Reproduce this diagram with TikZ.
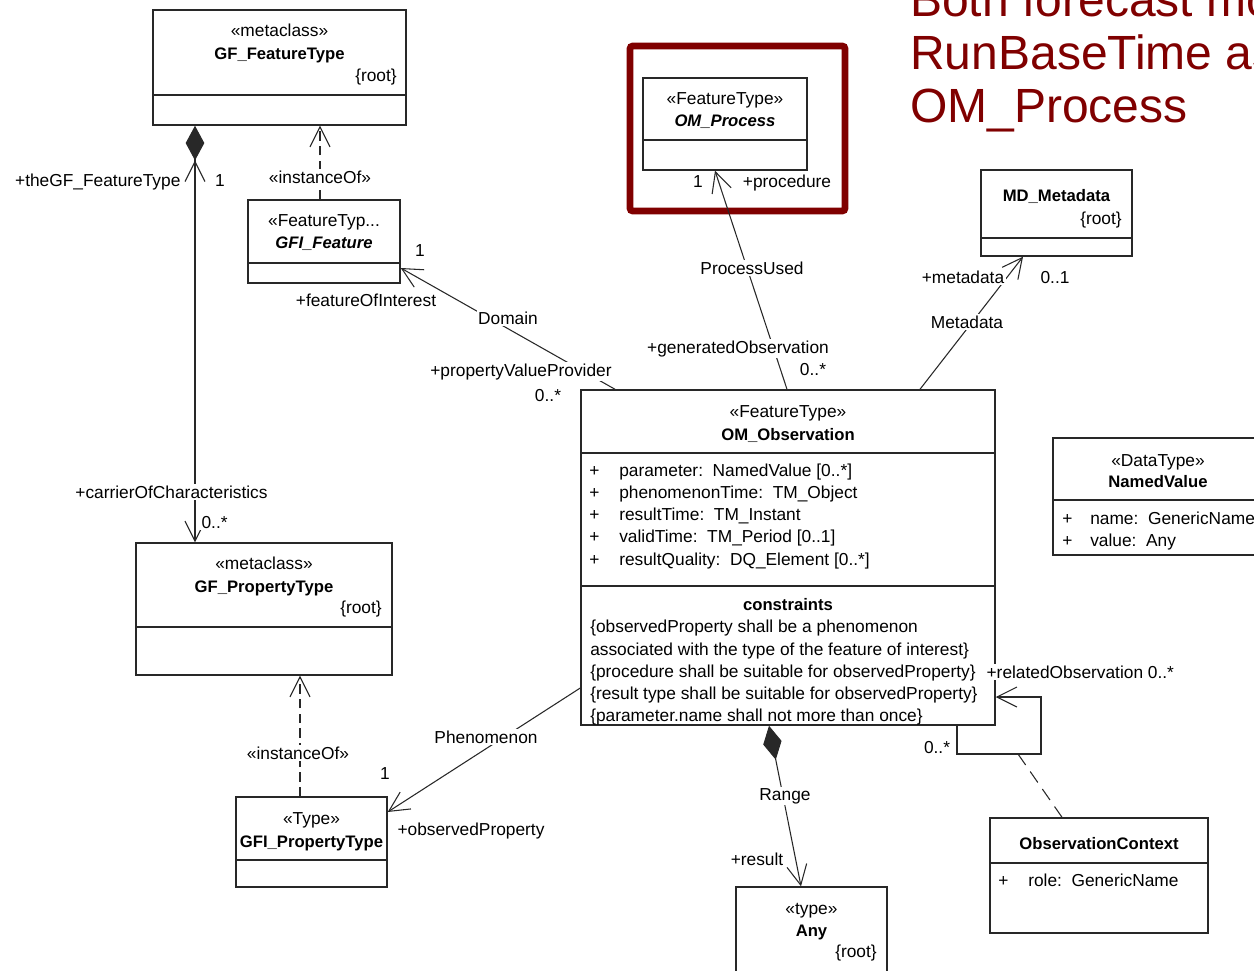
\documentclass[tikz,border=0pt]{standalone}
\usepackage{fontspec}
\setmainfont{Liberation Sans}
\usetikzlibrary{arrows.meta,fit}
\definecolor{framered}{RGB}{128,0,0}
\definecolor{umlline}{RGB}{40,40,40}
\newcommand\umlsize{\fontsize{13}{16}\selectfont}
\newcommand\umlbold{\fontsize{12.5}{15}\selectfont\bfseries}

\begin{document}
\begin{tikzpicture}[x=0.75pt, y=-0.75pt,
    font=\umlsize,
    cls/.style={draw=umlline, line width=1.1pt, inner sep=0pt},
    divider/.style={draw=umlline, line width=1.1pt},
    txt/.style={inner sep=0pt, anchor=mid, yshift=-2pt},
    bold/.style={txt, font=\umlbold},
    bolditalic/.style={txt, font=\umlbold\itshape},
    lbl/.style={fill=white, inner sep=1pt, anchor=mid, yshift=-2pt},
    titleline/.style={anchor=base west, inner sep=0pt, text=framered, font=\fontsize{36}{41}\selectfont},
    assoc/.style={draw=umlline, line width=0.8pt},
    nav/.style={assoc, -{Straight Barb[length=15pt, width=15pt]}},
    dep/.style={assoc, dash pattern=on 7pt off 4pt, -{Straight Barb[length=15pt, width=15pt]}},
    comp/.style={assoc, {Diamond[length=26pt, width=14pt]}-{Straight Barb[length=15pt, width=15pt]}}]
      \useasboundingbox (0,0) rectangle (1254,971);
      \clip (0,0) rectangle (1254,971);

      % title
      \node[titleline] (title1) at (910,16) {Both forecast mo};
      \node[titleline] (title2) at (910,69) {RunBaseTime as};
      \node[titleline] (title3) at (910,122) {OM\_Process};

      % highlight frame
      \draw[framered, line width=5pt, rounded corners=2pt] (630,46) rectangle (845,211);

      % classes
      \node[cls, fit={(153,10) (406,125)}] (ft) {};
      \draw[divider] (ft.west |- 0,95) -- (ft.east |- 0,95);
      \node[txt] at (279.5,30) {«metaclass»};
      \node[bold] at (279.5,53) {GF\_FeatureType};
      \node[txt, anchor=mid east] at (397,75) {\{root\}};

      \node[cls, fit={(248,200) (400,283)}] (gfi) {};
      \draw[divider] (gfi.west |- 0,263) -- (gfi.east |- 0,263);
      \node[txt] at (324,220) {«FeatureTyp...};
      \node[bolditalic] at (324,242) {GFI\_Feature};

      \node[cls, fit={(643,78) (807,170)}] (proc) {};
      \draw[divider] (proc.west |- 0,140) -- (proc.east |- 0,140);
      \node[txt] at (725,98) {«FeatureType»};
      \node[bolditalic] at (725,120) {OM\_Process};

      \node[cls, fit={(981,170) (1132,256)}] (md) {};
      \draw[divider] (md.west |- 0,238) -- (md.east |- 0,238);
      \node[bold] at (1056.5,195) {MD\_Metadata};
      \node[txt, anchor=mid east] at (1122,218) {\{root\}};

      \node[cls, fit={(581,390) (995,725)}] (obs) {};
      \draw[divider] (obs.west |- 0,453) -- (obs.east |- 0,453);
      \draw[divider] (obs.west |- 0,586) -- (obs.east |- 0,586);
      \node[txt] at (788,411) {«FeatureType»};
      \node[bold] at (788,434) {OM\_Observation};
      \node[txt, anchor=mid west] at (589,470) {+};
      \node[txt, anchor=mid west] at (619,470) {parameter:\ \ NamedValue [0..*]};
      \node[txt, anchor=mid west] at (589,492) {+};
      \node[txt, anchor=mid west] at (619,492) {phenomenonTime:\ \ TM\_Object};
      \node[txt, anchor=mid west] at (589,514) {+};
      \node[txt, anchor=mid west] at (619,514) {resultTime:\ \ TM\_Instant};
      \node[txt, anchor=mid west] at (589,536) {+};
      \node[txt, anchor=mid west] at (619,536) {validTime:\ \ TM\_Period [0..1]};
      \node[txt, anchor=mid west] at (589,559) {+};
      \node[txt, anchor=mid west] at (619,559) {resultQuality:\ \ DQ\_Element [0..*]};
      \node[bold] at (788,604) {constraints};
      \node[txt, anchor=mid west] at (590,626) {\{observedProperty shall be a phenomenon};
      \node[txt, anchor=mid west] at (590,649) {associated with the type of the feature of interest\}};
      \node[txt, anchor=mid west] at (590,671) {\{procedure shall be suitable for observedProperty\}};
      \node[txt, anchor=mid west] at (590,693) {\{result type shall be suitable for observedProperty\}};
      \node[txt, anchor=mid west] at (590,715) {\{parameter.name shall not more than once\}};

      \node[cls, fit={(1053,438) (1263,555)}] (nv) {};
      \draw[divider] (nv.west |- 0,500) -- (nv.east |- 0,500);
      \node[txt] at (1158,460) {«DataType»};
      \node[bold] at (1158,481) {NamedValue};
      \node[txt, anchor=mid west] at (1062,518) {+};
      \node[txt, anchor=mid west] at (1090,518) {name:\ \ GenericName};
      \node[txt, anchor=mid west] at (1062,540) {+};
      \node[txt, anchor=mid west] at (1090,540) {value:\ \ Any};

      \node[cls, fit={(136,543) (392,675)}] (pt) {};
      \draw[divider] (pt.west |- 0,627) -- (pt.east |- 0,627);
      \node[txt] at (264,563) {«metaclass»};
      \node[bold] at (264,586) {GF\_PropertyType};
      \node[txt, anchor=mid east] at (382,607) {\{root\}};

      \node[cls, fit={(236,797) (387,887)}] (gpt) {};
      \draw[divider] (gpt.west |- 0,860) -- (gpt.east |- 0,860);
      \node[txt] at (311.5,818) {«Type»};
      \node[bold] at (311.5,841) {GFI\_PropertyType};

      \node[cls, fit={(990,818) (1208,933)}] (ctx) {};
      \draw[divider] (ctx.west |- 0,863) -- (ctx.east |- 0,863);
      \node[bold] at (1099,843) {ObservationContext};
      \node[txt, anchor=mid west] at (998,880) {+};
      \node[txt, anchor=mid west] at (1028,880) {role:\ \ GenericName};

      \node[cls, fit={(736,887) (887,990)}] (any) {};
      \node[txt] at (811.5,908) {«type»};
      \node[bold] at (811.5,930) {Any};
      \node[txt, anchor=mid east] at (877,951) {\{root\}};

      % connectors
      \draw[assoc, {Diamond[length=26pt, width=14pt] Straight Barb[length=15pt, width=15pt]}-{Straight Barb[length=15pt, width=15pt]}] (195,0 |- ft.south) -- (195,0 |- pt.north);
      \draw[dep] (320,0 |- gfi.north) -- (320,0 |- ft.south);
      \draw[nav] (615,0 |- obs.north) -- (gfi.east |- 0,268);
      \draw[nav] (787,0 |- obs.north) -- (715,0 |- proc.south);
      \draw[nav] (920,0 |- obs.north) -- (1023,0 |- md.south);
      \draw[nav] (obs.west |- 0,688) -- (gpt.east |- 0,812);
      \draw[dep] (300,0 |- gpt.north) -- (300,0 |- pt.south);
      \draw[comp] (769,0 |- obs.south) -- (801,0 |- any.north);
      \coordinate (loopcorner) at (1041,754);
      \coordinate (loopmid) at (1018,754);
      \draw[nav] (957,0 |- obs.south) |- (loopcorner) |- (obs.east |- 0,697);
      \draw[assoc, dash pattern=on 10pt off 6pt] (loopmid) -- (1062,0 |- ctx.north);

      % connector labels
      \node[lbl, anchor=mid east] at (182,180) {+theGF\_FeatureType};
      \node[lbl] at (220,180) {1};
      \node[lbl] at (320,177) {«instanceOf»};
      \node[lbl] at (171.5,492) {+carrierOfCharacteristics};
      \node[lbl, anchor=mid west] at (200,522) {0..*};
      \node[lbl] at (420,250) {1};
      \node[lbl] at (366,300) {+featureOfInterest};
      \node[lbl] at (508,318) {Domain};
      \node[lbl] at (521,370) {+propertyValueProvider};
      \node[lbl] at (548,395) {0..*};
      \node[lbl] at (698,181) {1};
      \node[lbl] at (787,181) {+procedure};
      \node[lbl] at (752,268) {ProcessUsed};
      \node[lbl] at (738,347) {+generatedObservation};
      \node[lbl] at (813,369) {0..*};
      \node[lbl] at (963,277) {+metadata};
      \node[lbl] at (1055,277) {0..1};
      \node[lbl] at (967,322) {Metadata};
      \node[lbl, anchor=mid west] at (985,672) {+relatedObservation 0..*};
      \node[lbl] at (937,747) {0..*};
      \node[lbl] at (785,794) {Range};
      \node[lbl] at (757,859) {+result};
      \node[lbl] at (486,737) {Phenomenon};
      \node[lbl] at (385,773) {1};
      \node[lbl] at (471,829) {+observedProperty};
      \node[lbl] at (298,753) {«instanceOf»};
    \end{tikzpicture}
\end{document}
